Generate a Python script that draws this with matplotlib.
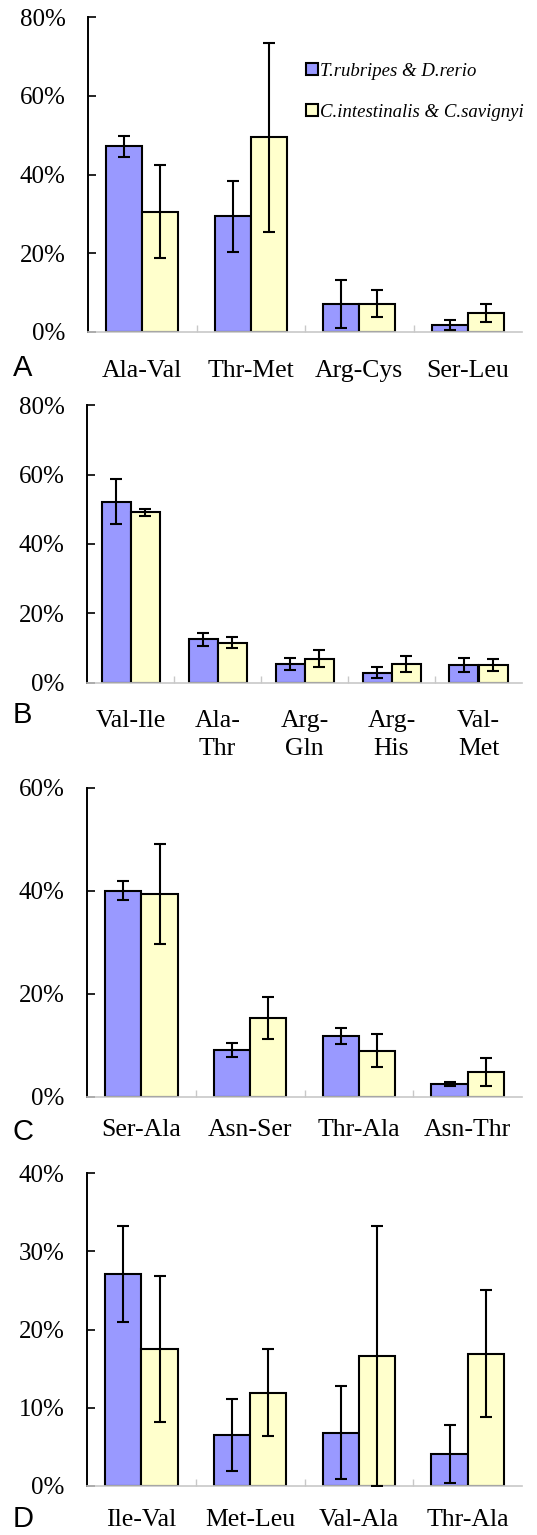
import matplotlib.pyplot as plt
from matplotlib.patches import Patch
from matplotlib.ticker import FixedLocator, FuncFormatter
import numpy as np

plt.rcParams['font.family'] = ['Liberation Serif', 'DejaVu Serif']

BLUE = '#9999ff'
YELLOW = '#ffffcc'

# panel A
cats_a = ['Ala-Val', 'Thr-Met', 'Arg-Cys', 'Ser-Leu']
fish_a = [47.2, 29.4, 7.1, 1.8]
fish_err_a = [2.7, 9.0, 6.2, 1.2]
asc_a = [30.6, 49.4, 7.2, 4.9]
asc_err_a = [11.8, 24.0, 3.4, 2.3]

# panel B
cats_b = ['Val-Ile', 'Ala-\nThr', 'Arg-\nGln', 'Arg-\nHis', 'Val-\nMet']
fish_b = [52.2, 12.5, 5.4, 2.9, 5.2]
fish_err_b = [6.5, 1.9, 1.8, 1.6, 2.0]
asc_b = [49.1, 11.5, 6.9, 5.3, 5.1]
asc_err_b = [1.1, 1.6, 2.4, 2.3, 1.8]

# panel C
cats_c = ['Ser-Ala', 'Asn-Ser', 'Thr-Ala', 'Asn-Thr']
fish_c = [40.0, 9.1, 11.8, 2.4]
fish_err_c = [1.9, 1.3, 1.55, 0.4]
asc_c = [39.4, 15.3, 8.9, 4.8]
asc_err_c = [9.7, 4.0, 3.2, 2.65]

# panel D
cats_d = ['Ile-Val', 'Met-Leu', 'Val-Ala', 'Thr-Ala']
fish_d = [27.1, 6.5, 6.8, 4.05]
fish_err_d = [6.2, 4.65, 5.95, 3.75]
asc_d = [17.5, 11.9, 16.6, 16.9]
asc_err_d = [9.3, 5.55, 16.7, 8.1]

W, H = 537, 1535
fig = plt.figure(figsize=(W / 100, H / 100), dpi=100)


def add_panel(box, cats, fish, fish_err, asc, asc_err, ymax, ystep, letter, pad, letter_y):
    x0, top, x1, bottom = box
    ax = fig.add_axes([x0 / W, 1 - bottom / H, (x1 - x0) / W, (bottom - top) / H])
    n = len(cats)
    x = np.arange(n) + 0.5
    w = 1 / 3
    ax.bar(x - w / 2, fish, w, color=BLUE, edgecolor='black', linewidth=1.5, zorder=2)
    ax.bar(x + w / 2, asc, w, color=YELLOW, edgecolor='black', linewidth=1.5, zorder=2)
    ax.errorbar(x - w / 2, fish, yerr=fish_err, fmt='none', ecolor='black',
                elinewidth=1.5, capsize=4.5, capthick=1.5, zorder=3)
    ax.errorbar(x + w / 2, asc, yerr=asc_err, fmt='none', ecolor='black',
                elinewidth=1.5, capsize=4.5, capthick=1.5, zorder=3)

    ax.set_xlim(0, n)
    ax.set_ylim(0, ymax)
    ax.set_yticks(np.arange(0, ymax + 0.01, ystep))
    ax.yaxis.set_major_formatter(FuncFormatter(lambda v, p: f'{v:.0f}%'))
    ax.tick_params(axis='y', direction='in', length=5.5, width=1.2, pad=16, labelsize=18)

    ax.set_xticks(x)
    ax.set_xticklabels(cats, fontsize=18.5, linespacing=1.3)
    ax.tick_params(axis='x', which='major', length=0, pad=pad)
    ax.xaxis.set_minor_locator(FixedLocator(np.arange(1, n)))
    ax.tick_params(axis='x', which='minor', direction='in', length=5, width=1, color='#c8c8c8')

    for s in ['top', 'right']:
        ax.spines[s].set_visible(False)
    ax.spines['left'].set_linewidth(1.4)
    ax.spines['bottom'].set_color('#c8c8c8')
    ax.spines['bottom'].set_linewidth(1.2)

    fig.text(13 / W, 1 - letter_y / H, letter, family='Liberation Sans',
             fontsize=21, ha='left', va='center')
    return ax


ax_a = add_panel((88, 17, 522, 332), cats_a, fish_a, fish_err_a, asc_a, asc_err_a,
                 80, 20, 'A', 20, 368)
add_panel((87, 405.3, 522, 682.7), cats_b, fish_b, fish_err_b, asc_b, asc_err_b,
          80, 20, 'B', 20, 715)
add_panel((87, 787.7, 522, 1096.7), cats_c, fish_c, fish_err_c, asc_c, asc_err_c,
          60, 20, 'C', 16, 1132)
add_panel((87, 1173.3, 522, 1485.7), cats_d, fish_d, fish_err_d, asc_d, asc_err_d,
          40, 10, 'D', 17, 1519)

handles = [Patch(facecolor=BLUE, edgecolor='black', linewidth=1.5),
           Patch(facecolor=YELLOW, edgecolor='black', linewidth=1.5)]
ax_a.legend(handles, ['T.rubripes & D.rerio', 'C.intestinalis & C.savignyi'],
            loc='upper left', bbox_to_anchor=(0.503, 0.855), frameon=False,
            prop={'family': 'Liberation Serif', 'style': 'italic', 'size': 13.5},
            handlelength=0.6, handleheight=0.6, handletextpad=0.15,
            labelspacing=1.3, borderpad=0, borderaxespad=0)

fig.savefig('out.png', dpi=100)
